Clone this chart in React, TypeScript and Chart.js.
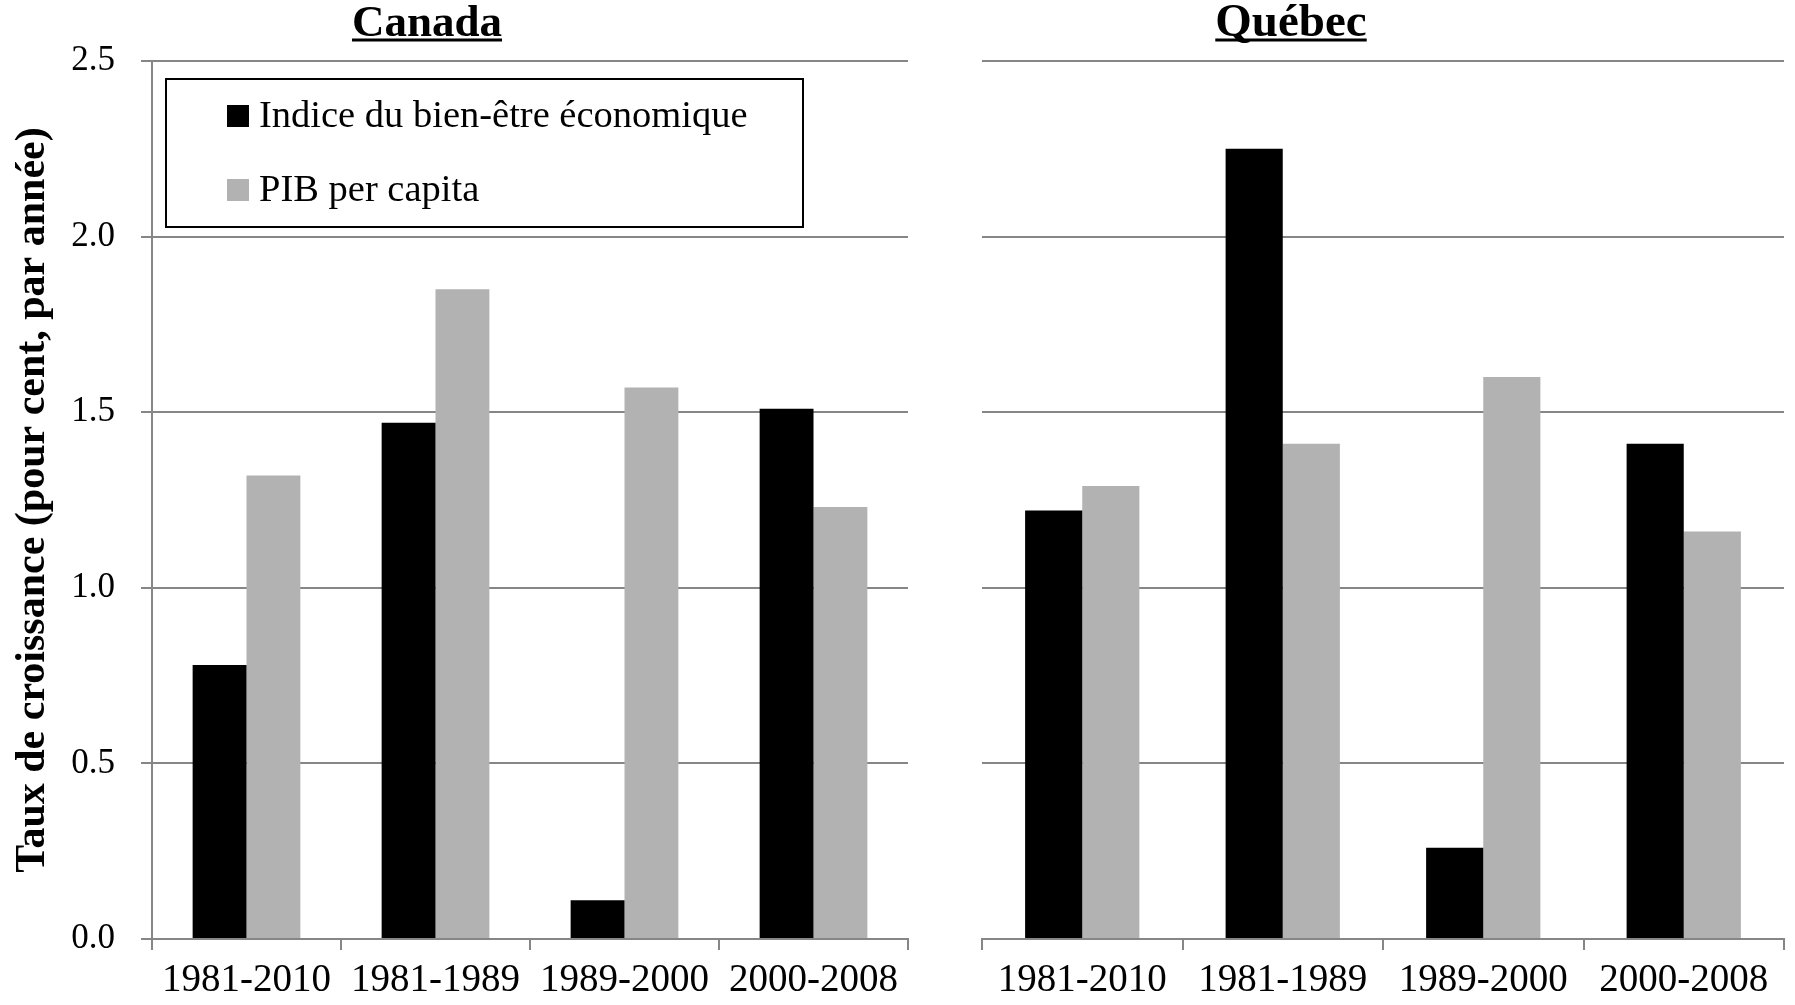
import React, { useEffect, useRef } from "react";
import { Chart, registerables } from "chart.js";

Chart.register(...registerables);

const categories = ["1981-2010", "1981-1989", "1989-2000", "2000-2008"];
const seriesLabels = ["Indice du bien-être économique", "PIB per capita"];
const canadaIndice = [0.78, 1.47, 0.11, 1.51];
const canadaPib = [1.32, 1.85, 1.57, 1.23];
const quebecIndice = [1.22, 2.25, 0.26, 1.41];
const quebecPib = [1.29, 1.41, 1.6, 1.16];
const yMin = 0;
const yMax = 2.5;
const yStep = 0.5;
const yTitle = "Taux de croissance (pour cent, par année)";

const FONT = "'Liberation Serif', 'Times New Roman', serif";
const GRID = "#868686";
const COLORS = ["#000000", "#b2b2b2"];

const panelPlugin = {
  id: "panelDeco",
  afterDraw(chart: any, _args: any, opts: any) {
    const ctx = chart.ctx as CanvasRenderingContext2D;
    ctx.save();
    if (opts.title) {
      ctx.font = `bold ${opts.titleSize}px ${FONT}`;
      ctx.fillStyle = "#000";
      ctx.textAlign = "center";
      ctx.textBaseline = "alphabetic";
      ctx.fillText(opts.title, opts.titleX, 36);
      const w = ctx.measureText(opts.title).width;
      ctx.fillRect(opts.titleX - w / 2, 38.5, w, 3);
    }
    if (opts.legend) {
      ctx.fillStyle = "#fff";
      ctx.fillRect(166, 79, 637, 148);
      ctx.lineWidth = 2;
      ctx.strokeStyle = "#000";
      ctx.strokeRect(166, 79, 637, 148);
      const ys = [116, 190];
      chart.data.datasets.forEach((ds: any, i: number) => {
        ctx.fillStyle = ds.backgroundColor;
        ctx.fillRect(227, ys[i] - 11, 22, 22);
        ctx.fillStyle = "#000";
        ctx.font = `38.5px ${FONT}`;
        ctx.textAlign = "left";
        ctx.textBaseline = "middle";
        ctx.fillText(ds.label, 259, ys[i] + 1);
      });
    }
    ctx.restore();
  },
};

type PanelProps = {
  left: number;
  width: number;
  title: string;
  titleX: number;
  titleSize: number;
  indice: number[];
  pib: number[];
  primary: boolean;
  axisWidth: number;
  padRight: number;
};

function Panel(p: PanelProps) {
  const ref = useRef<HTMLCanvasElement | null>(null);
  useEffect(() => {
    if (!ref.current) return;
    const chart = new Chart(ref.current, {
      type: "bar",
      data: {
        labels: categories,
        datasets: [
          {
            label: seriesLabels[0],
            data: p.indice,
            backgroundColor: COLORS[0],
            categoryPercentage: 0.57,
            barPercentage: 1.0,
          },
          {
            label: seriesLabels[1],
            data: p.pib,
            backgroundColor: COLORS[1],
            categoryPercentage: 0.57,
            barPercentage: 1.0,
          },
        ],
      },
      options: {
        responsive: false,
        animation: false,
        layout: { padding: { top: 61, right: p.padRight, left: 0, bottom: 0 } },
        plugins: {
          legend: { display: false },
          tooltip: { enabled: false },
          title: { display: false },
          panelDeco: { title: p.title, titleX: p.titleX, titleSize: p.titleSize, legend: p.primary },
        } as any,
        scales: {
          x: {
            grid: {
              display: true,
              drawOnChartArea: false,
              drawTicks: true,
              tickLength: 11,
              color: GRID,
              lineWidth: 2,
              offset: true,
            },
            border: { display: true, color: GRID, width: 2 },
            ticks: {
              color: "#000",
              font: { family: FONT, size: 39 },
              padding: 7,
              maxRotation: 0,
              autoSkip: false,
            },
            afterFit: (s: any) => {
              s.height = 66;
            },
          },
          y: {
            min: yMin,
            max: yMax,
            grid: {
              color: GRID,
              lineWidth: 2,
              drawTicks: p.primary,
              tickLength: 11,
            },
            border: { display: p.primary, color: GRID, width: 2 },
            ticks: {
              display: p.primary,
              stepSize: yStep,
              color: "#000",
              font: { family: FONT, size: 35 },
              padding: 26,
              callback: (v: any) => Number(v).toFixed(1),
            },
            title: {
              display: p.primary,
              text: yTitle,
              color: "#000",
              font: { family: FONT, size: 42, weight: "bold" },
              padding: { top: 8, bottom: 0 },
            },
            afterFit: (s: any) => {
              s.width = p.axisWidth;
            },
          },
        },
      },
      plugins: [panelPlugin],
    });
    return () => chart.destroy();
  }, []);
  return (
    <canvas
      ref={ref}
      width={p.width}
      height={1005}
      style={{ position: "absolute", left: p.left, top: 0, width: p.width, height: 1005 }}
    />
  );
}

export default function App() {
  return (
    <div
      style={{
        position: "fixed",
        left: 0,
        top: 0,
        width: 1795,
        height: 1005,
        background: "#fff",
        overflow: "hidden",
      }}
    >
      <Panel
        left={0}
        width={912}
        title="Canada"
        titleX={427}
        titleSize={45}
        indice={canadaIndice}
        pib={canadaPib}
        primary={true}
        axisWidth={152}
        padRight={4}
      />
      <Panel
        left={912}
        width={883}
        title="Québec"
        titleX={379}
        titleSize={47}
        indice={quebecIndice}
        pib={quebecPib}
        primary={false}
        axisWidth={70}
        padRight={11}
      />
    </div>
  );
}
